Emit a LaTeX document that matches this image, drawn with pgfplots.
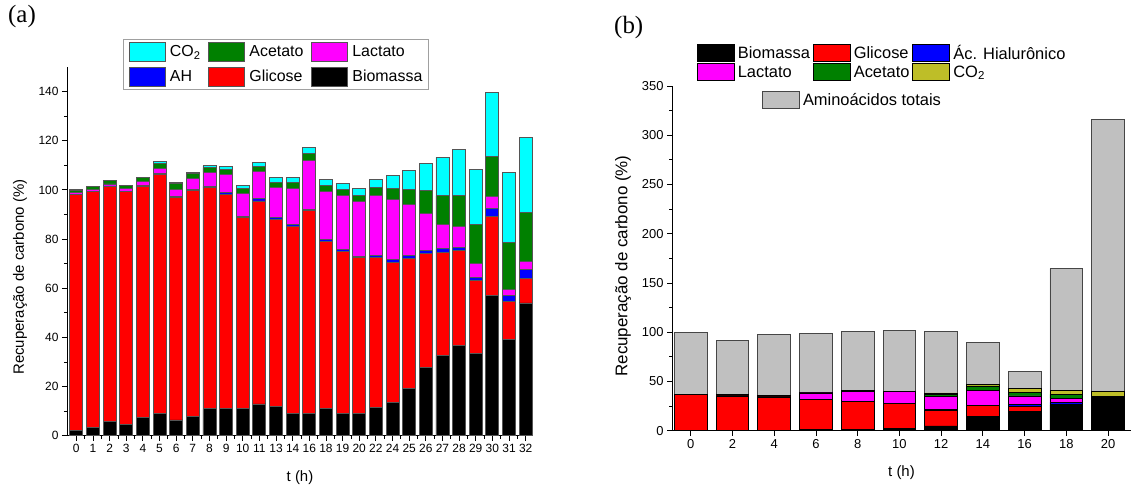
\documentclass[border=0pt]{standalone}
\usepackage{fontspec}
\setmainfont{Liberation Sans}
\newfontfamily\seriffont{Liberation Serif}
\usepackage{pgfplots}
\pgfplotsset{compat=1.18}
\usepackage{pgfplotstable}

\definecolor{cCyan}{RGB}{0,255,255}
\definecolor{cGreen}{RGB}{0,128,0}
\definecolor{cMag}{RGB}{255,0,255}
\definecolor{cBlue}{RGB}{0,0,255}
\definecolor{cRed}{RGB}{255,0,0}
\definecolor{cOlive}{RGB}{190,190,40}
\definecolor{cGray}{RGB}{192,192,192}
\definecolor{cEdge}{RGB}{85,85,85}

% Panel (a): x index 0..27 -> t = 0,1,...,11,13,14,16,18,19,20,22,24,25,...,32
\pgfplotstableread{
i bio glu ah lac ace co2
0 2.2 95.8 0.3 0.8 0.8 0.1
1 3.4 95.8 0.3 0.8 1.1 0.0
2 5.6 95.8 0.2 0.8 1.4 0.0
3 4.5 94.7 0.2 1.1 1.3 0.0
4 7.3 94.3 0.2 1.5 1.7 0.2
5 9.0 97.4 0.3 2.1 2.1 0.5
6 6.4 90.6 0.4 2.9 2.3 0.3
7 7.9 91.8 0.4 4.5 2.1 0.4
8 11.0 89.8 0.6 5.7 1.9 0.9
9 11.0 87.1 0.7 7.3 2.2 1.1
10 11.0 77.6 0.7 9.1 2.1 1.3
11 12.9 82.6 1.0 11.0 2.0 1.7
12 11.8 76.2 0.8 12.0 2.2 1.9
13 9.1 76.1 0.9 14.4 2.4 2.0
14 9.1 82.7 0.3 19.7 2.9 2.4
15 10.9 68.1 0.9 19.3 2.6 2.6
16 9.1 66.0 0.7 21.8 2.4 2.6
17 9.1 63.3 0.7 22.3 2.4 2.7
18 11.4 61.0 1.1 24.3 3.2 3.2
19 13.5 56.8 1.3 24.6 4.5 5.0
20 19.3 52.7 1.3 20.8 6.2 7.5
21 27.9 46.2 1.4 15.0 9.1 11.3
22 32.7 41.7 1.7 9.9 11.6 15.6
23 36.7 38.8 1.2 8.3 12.6 19.0
24 33.5 29.5 1.5 5.5 16.0 22.5
25 57.0 32.0 3.5 5.0 16.0 26.0
26 39.0 15.5 2.5 2.5 19.0 28.5
27 54.0 10.0 3.5 3.5 20.0 30.5
}\tableA

\pgfplotstableread{
t bio glu ah lac ace co2 amino
0 0.3 36.5 0.0 0.0 0.2 0.0 63.0
2 0.3 35.0 0.5 0.0 1.2 0.0 55.0
4 0.3 34.0 0.5 0.0 1.2 0.0 62.0
6 1.4 30.6 0.0 6.3 0.5 0.0 60.2
8 1.5 28.5 0.0 10.0 0.5 0.0 60.5
10 2.5 25.0 0.3 11.8 0.6 0.0 61.8
12 4.8 16.2 0.3 13.7 2.0 1.3 62.7
14 14.9 10.5 0.3 14.9 4.8 1.6 43.0
16 19.7 5.3 1.4 8.9 3.7 3.7 17.9
18 26.0 0.5 2.3 4.1 4.1 4.0 123.6
20 31.2 0.3 1.7 0.5 1.5 4.8 275.7
}\tableB

\begin{document}
\begin{tikzpicture}
\useasboundingbox (0,0) rectangle (1132bp,491bp);

\node[anchor=north west, inner sep=0pt, font=\seriffont\fontsize{25}{28}\selectfont] at (8bp,486bp) {(a)};
\node[anchor=north west, inner sep=0pt, font=\seriffont\fontsize{25}{28}\selectfont] at (614bp,475bp) {(b)};

% ---------------- Panel (a) ----------------
\begin{axis}[
  at={(67bp,55.3bp)}, anchor=south west, scale only axis,
  width=466bp, height=368.7bp,
  xmin=-0.56, xmax=27.44, ymin=0, ymax=150,
  ybar stacked, bar width=0.78,
  every axis plot post/.append style={/pgfplots/legend image code/.code={\draw[##1,/tikz/.cd] (0bp,-9.5bp) rectangle (36bp,9.5bp);}},
  axis lines*=left,
  axis line style={line width=1bp, black},
  tick align=outside, major tick length=5bp, minor tick length=3bp,
  every tick/.style={line width=0.8bp, black},
  xtick={0,...,27},
  xticklabels={0,1,2,3,4,5,6,7,8,9,10,11,13,14,16,18,19,20,22,24,25,26,27,28,29,30,31,32},
  minor xtick={0.5,1.5,...,26.5},
  ytick={0,20,...,140}, minor ytick={10,30,...,130},
  /pgf/number format/assume math mode=true,
  ticklabel style={font=\fontsize{12}{14}\selectfont},
  xlabel={t (h)}, ylabel={Recuperação de carbono (\%)},
  label style={font=\fontsize{15}{18}\selectfont},
  xlabel style={at={(rel axis cs:0.5,0)}, anchor=center, yshift=-42bp},
  ylabel style={at={(rel axis cs:0,0.43)}, anchor=center, yshift=47bp},
  legend columns=3, reverse legend,
  legend cell align=left,
  legend style={at={(rel axis cs:0.120,1.076)}, anchor=north west,
    draw={rgb,255:red,160;green,160;blue,160}, line width=1.2bp,
    inner xsep=5bp, inner ysep=2.5bp, row sep=5bp,
    font=\fontsize{16}{19}\selectfont,
    nodes={inner sep=1.5bp},
    /tikz/every odd column/.append style={column sep=3bp},
    /tikz/every even column/.append style={column sep=6bp}},
]
\addplot[fill=black, draw=cEdge, line width=0.9bp] table[x=i,y=bio]{\tableA};
\addlegendentry{Biomassa}
\addplot[fill=cRed, draw=cEdge, line width=0.9bp] table[x=i,y=glu]{\tableA};
\addlegendentry{Glicose}
\addplot[fill=cBlue, draw=cEdge, line width=0.9bp] table[x=i,y=ah]{\tableA};
\addlegendentry{AH}
\addplot[fill=cMag, draw=cEdge, line width=0.9bp] table[x=i,y=lac]{\tableA};
\addlegendentry{Lactato}
\addplot[fill=cGreen, draw=cEdge, line width=0.9bp] table[x=i,y=ace]{\tableA};
\addlegendentry{Acetato}
\addplot[fill=cCyan, draw=cEdge, line width=0.9bp] table[x=i,y=co2]{\tableA};
\addlegendentry{CO\textsubscript{2}}
\end{axis}

% ---------------- Panel (b) ----------------
\begin{axis}[
  at={(672bp,60.3bp)}, anchor=south west, scale only axis,
  width=459bp, height=344.7bp,
  xmin=-0.9, xmax=21.1, ymin=0, ymax=350,
  ybar stacked, bar width=1.57,
  every axis plot post/.append style={/pgfplots/legend image code/.code={\draw[##1,/tikz/.cd] (0bp,-8.5bp) rectangle (37bp,8.5bp);}},
  axis lines*=left,
  axis line style={line width=1bp, black},
  tick align=outside, major tick length=5bp, minor tick length=3bp,
  every tick/.style={line width=0.8bp, black},
  xtick={0,2,...,20},
  ytick={0,50,...,350}, minor ytick={25,75,...,325},
  /pgf/number format/assume math mode=true,
  ticklabel style={font=\fontsize{13}{15}\selectfont},
  xlabel={t (h)}, ylabel={Recuperação de carbono (\%)},
  xlabel style={font=\fontsize{15}{18}\selectfont, at={(rel axis cs:0.5,0)}, anchor=center, yshift=-42bp},
  ylabel style={font=\fontsize{17}{20}\selectfont, at={(rel axis cs:0,0.478)}, anchor=center, yshift=49bp},
  legend columns=3,
  legend cell align=left,
  legend style={at={(rel axis cs:0.053,1.124)}, anchor=north west,
    draw=none, fill=none, inner sep=0bp, row sep=1bp,
    font=\fontsize{16.5}{18}\selectfont,
    nodes={inner sep=1.5bp},
    /tikz/every odd column/.append style={column sep=2bp},
    /tikz/every even column/.append style={column sep=1bp}},
]
\addplot[fill=black, draw=black, line width=0.8bp] table[x=t,y=bio]{\tableB};
\addlegendentry{Biomassa}
\addplot[fill=cRed, draw=black, line width=0.8bp] table[x=t,y=glu]{\tableB};
\addlegendentry{Glicose}
\addplot[fill=cBlue, draw=black, line width=0.8bp] table[x=t,y=ah]{\tableB};
\addlegendentry{Ác. Hialurônico}
\addplot[fill=cMag, draw=black, line width=0.8bp] table[x=t,y=lac]{\tableB};
\addlegendentry{Lactato}
\addplot[fill=cGreen, draw=black, line width=0.8bp] table[x=t,y=ace]{\tableB};
\addlegendentry{Acetato}
\addplot[fill=cOlive, draw=black, line width=0.8bp] table[x=t,y=co2]{\tableB};
\addlegendentry{CO\textsubscript{2}}
\addplot[fill=cGray, draw={rgb,255:red,70;green,70;blue,70}, line width=0.8bp, forget plot] table[x=t,y=amino]{\tableB};
\end{axis}

% second legend (Aminoácidos totais), centred under the first
\begin{axis}[
  at={(672bp,60.3bp)}, anchor=south west, scale only axis,
  width=459bp, height=344.7bp,
  xmin=0, xmax=1, ymin=0, ymax=1, hide axis,
  legend image code/.code={\draw[#1] (0bp,-8.5bp) rectangle (37bp,8.5bp);},
  legend cell align=left,
  legend style={at={(rel axis cs:0.195,0.985)}, anchor=north west,
    draw=none, fill=none, inner sep=0bp,
    font=\fontsize{16.5}{18}\selectfont,
    nodes={inner sep=1.5bp},
    /tikz/every odd column/.append style={column sep=2bp}},
]
\addplot[draw=none, forget plot] coordinates {(0.5,0.5)};
\addlegendimage{fill=cGray, draw={rgb,255:red,70;green,70;blue,70}, line width=0.8bp}
\addlegendentry{Aminoácidos totais}
\end{axis}
\end{tikzpicture}
\end{document}
